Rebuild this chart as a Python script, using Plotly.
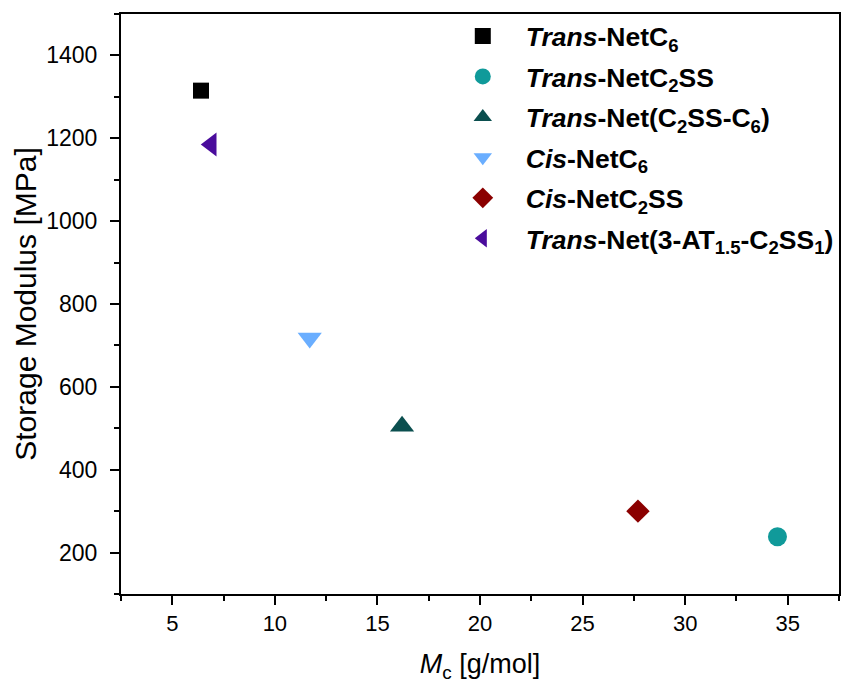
import plotly.graph_objects as go

# Storage modulus versus molecular weight between crosslinks
names = [
    "<b><i>Trans</i>-NetC<sub>6</sub></b>",
    "<b><i>Trans</i>-NetC<sub>2</sub>SS</b>",
    "<b><i>Trans</i>-Net(C<sub>2</sub>SS-C<sub>6</sub>)</b>",
    "<b><i>Cis</i>-NetC<sub>6</sub></b>",
    "<b><i>Cis</i>-NetC<sub>2</sub>SS</b>",
    "<b><i>Trans</i>-Net(3-AT<sub>1.5</sub>-C<sub>2</sub>SS<sub>1</sub>)</b>",
]
mc_values = [6.4, 34.5, 16.2, 11.7, 27.7, 6.9]
modulus_values = [1315, 238, 505, 718, 300, 1185]

symbols = ["square", "circle", "triangle-up", "triangle-down", "diamond", "triangle-left"]
colors = ["#000000", "#109a9a", "#0b4f4f", "#6aaeff", "#8b0000", "#4a0c9c"]
sizes = [16, 19, 21, 21, 18, 21]

FONT = "Liberation Sans, Arial, sans-serif"

fig = go.Figure()
for i, name in enumerate(names):
    fig.add_trace(go.Scatter(
        x=[mc_values[i]], y=[modulus_values[i]],
        mode="markers", name=name, legendgroup=f"g{i}",
        marker=dict(symbol=symbols[i], color=colors[i], size=sizes[i], line=dict(width=0)),
    ))

axis_common = dict(
    showline=True, linecolor="black", linewidth=2, mirror=True,
    ticks="outside", ticklen=9, tickwidth=2, tickcolor="black",
    showgrid=False, zeroline=False,
)

fig.update_xaxes(
    range=[2.5, 37.5], tickvals=[5, 10, 15, 20, 25, 30, 35],
    tickfont=dict(family=FONT, size=22, color="black"),
    minor=dict(ticks="outside", ticklen=5, tickwidth=2, tickcolor="black", dtick=2.5, tick0=0),
    title=dict(text="<i>M</i><sub>c</sub> [g/mol]", font=dict(family=FONT, size=27, color="black"), standoff=19),
    **axis_common,
)
fig.update_yaxes(
    range=[100, 1500], tickvals=[200, 400, 600, 800, 1000, 1200, 1400],
    tickfont=dict(family=FONT, size=23, color="black"),
    ticklabelstandoff=8,
    minor=dict(ticks="outside", ticklen=5, tickwidth=2, tickcolor="black", dtick=100, tick0=0),
    title=dict(text="Storage Modulus [MPa]", font=dict(family=FONT, size=30, color="black"), standoff=1),
    **axis_common,
)

fig.update_layout(
    width=846, height=691,
    margin=dict(l=121, r=5, t=14, b=97),
    plot_bgcolor="white", paper_bgcolor="white",
    legend=dict(
        x=0.444, y=1.003, xanchor="left", yanchor="top",
        font=dict(family=FONT, size=26.5, color="black"),
        bgcolor="rgba(0,0,0,0)", tracegroupgap=3, itemsizing="trace", itemwidth=76,
    ),
    showlegend=True,
)

fig.write_html("out.html")
